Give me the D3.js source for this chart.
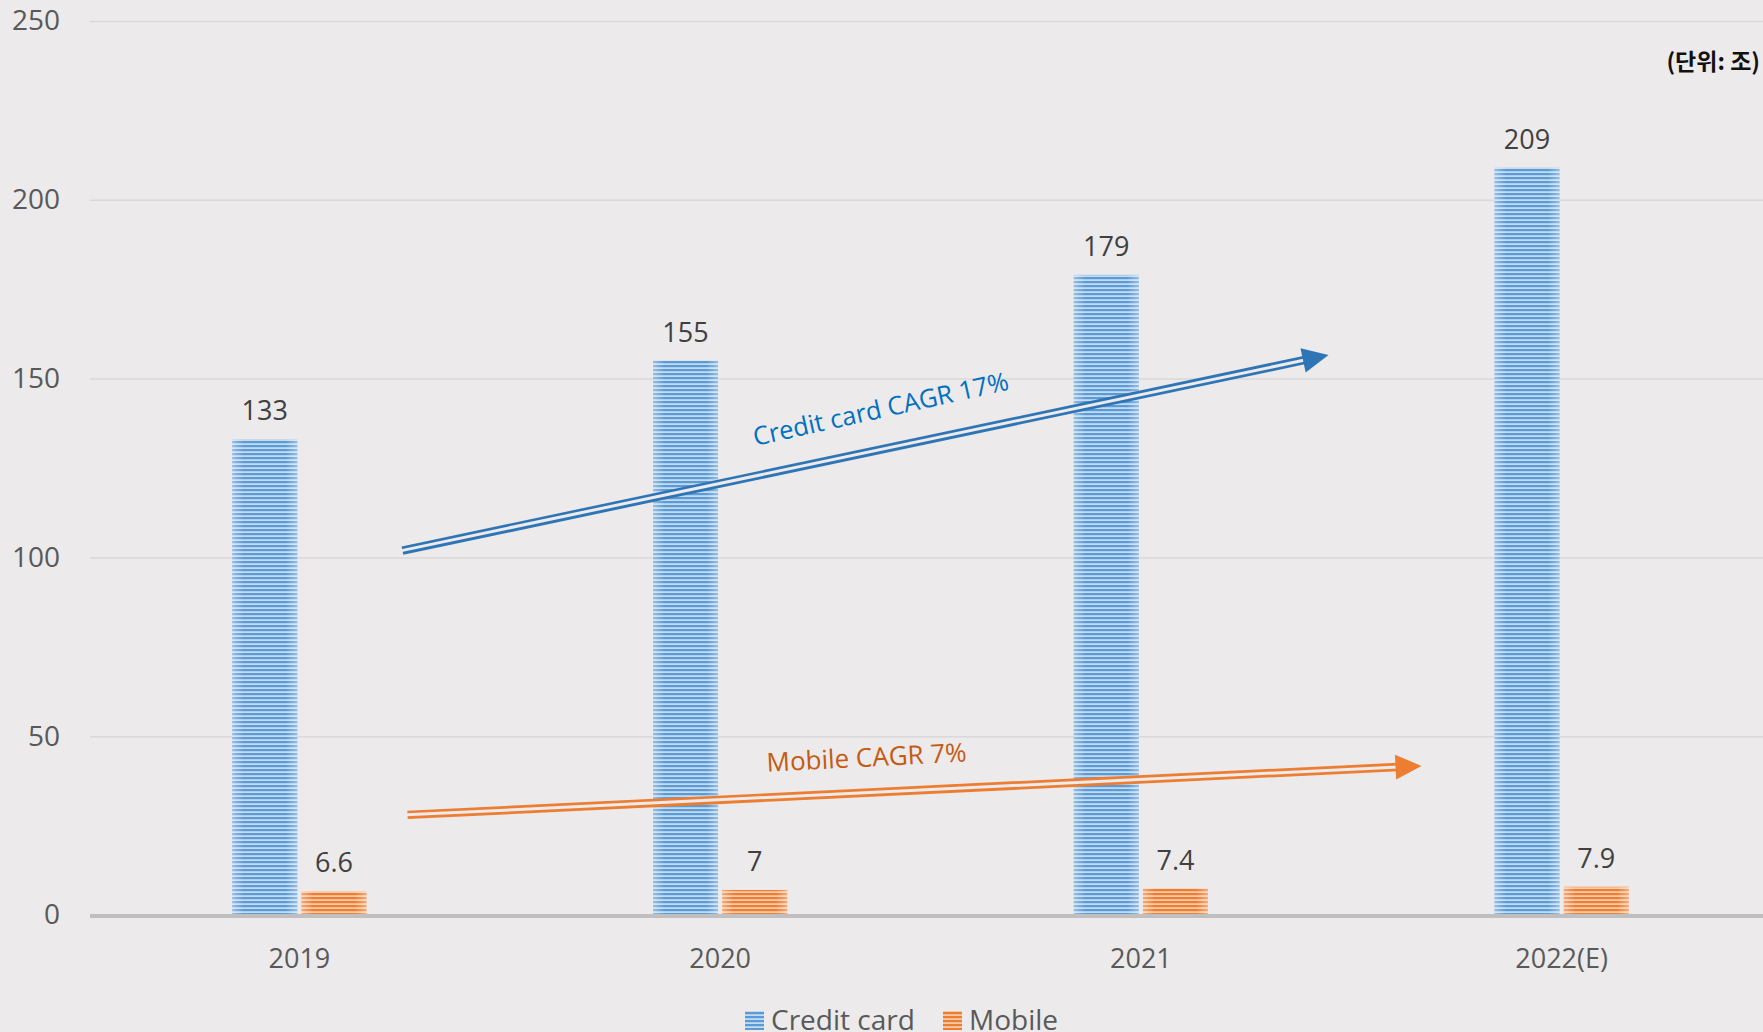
<!DOCTYPE html>
<html>
<head>
<meta charset="utf-8">
<script src="https://cdnjs.cloudflare.com/ajax/libs/d3/7.8.5/d3.min.js"></script>
<style>
  html, body { margin: 0; padding: 0; background: #eceaeb; }
  svg { display: block; }
</style>
</head>
<body>
<div id="chart"></div>
<script>
/*
*       Data
*/

// Years on the x axis
var categories = ['2019', '2020', '2021', '2022(E)'];

// Series names (legend order)
var seriesNames = ['Credit card', 'Mobile'];

// Values per series, in 조
var creditValues = [133, 155, 179, 209];
var mobileValues = [6.6, 7, 7.4, 7.9];

// Value labels as printed above the bars
var creditLabels = ['133', '155', '179', '209'];
var mobileLabels = ['6.6', '7', '7.4', '7.9'];

// Y axis ticks
var yTicks = [0, 50, 100, 150, 200, 250];

// CAGR arrows, in category-index / value units
var arrowNames = ['Credit card CAGR 17%', 'Mobile CAGR 7%'];
var arrowFrom = [[0.245, 101.9], [0.257, 28.0]];
var arrowTo = [[2.446, 156.6], [2.667, 41.7]];
var arrowTextAt = [[1.381, 141.8], [1.348, 44.3]];
var arrowTextAngle = [-12.5, -3];

/*
*       Setup
*/

var width = 1763, height = 1032;
var bg = '#eceaeb';
var colors = {
    'Credit card': { dark: '#5b9bd5', light: '#c3daf0', arrow: '#2e75b6', text: '#0070c0' },
    'Mobile': { dark: '#ed7d31', light: '#f8c9a8', arrow: '#ed7d31', text: '#c55a11' }
};

var svg = d3.select('#chart').append('svg')
    .attr('width', width)
    .attr('height', height)
    .style('font-family', '"Open Sans", "Noto Sans", sans-serif');

svg.append('rect').attr('width', width).attr('height', height).attr('fill', bg);

// Striped fill patterns and edge glow for the bars
var defs = svg.append('defs');
seriesNames.forEach(function(name, i){
    var c = colors[name];
    var p = defs.append('pattern')
        .attr('id', 'stripe' + i)
        .attr('patternUnits', 'userSpaceOnUse')
        .attr('width', 8).attr('height', 4);
    p.append('rect').attr('width', 8).attr('height', 4).attr('fill', c.light);
    p.append('rect').attr('y', 1).attr('width', 8).attr('height', 2.2).attr('fill', c.dark);
});
var glow = defs.append('linearGradient').attr('id', 'glow');
glow.append('stop').attr('offset', '0%').attr('stop-color', '#fff').attr('stop-opacity', 0.35);
glow.append('stop').attr('offset', '18%').attr('stop-color', '#fff').attr('stop-opacity', 0);
glow.append('stop').attr('offset', '82%').attr('stop-color', '#fff').attr('stop-opacity', 0);
glow.append('stop').attr('offset', '100%').attr('stop-color', '#fff').attr('stop-opacity', 0.35);

// Scales
var x0 = d3.scaleBand()
    .domain(categories)
    .range([89, 1772])
    .paddingInner(0.681)
    .paddingOuter(0.3405);

var x1 = d3.scaleBand()
    .domain(seriesNames)
    .range([0, x0.bandwidth()])
    .paddingInner(0.06);

var y = d3.scaleLinear().domain([0, 250]).range([915, 21]);

// Continuous x for annotations (category index -> pixel centre)
var xIdx = d3.scaleLinear()
    .domain([0, categories.length - 1])
    .range([x0(categories[0]) + x0.bandwidth() / 2, x0(categories[categories.length - 1]) + x0.bandwidth() / 2]);

/*
*       Grid and axes
*/

var yAxis = svg.append('g')
    .attr('transform', 'translate(90,0)')
    .call(d3.axisLeft(y).tickValues(yTicks).tickSize(-(width - 90)).tickPadding(30));
yAxis.select('.domain').remove();
yAxis.selectAll('.tick line')
    .attr('stroke', '#d9d9d9')
    .attr('stroke-width', 1.5)
    .attr('opacity', function(d){ return d === 0 ? 0 : 1; });
yAxis.selectAll('.tick text')
    .attr('fill', '#595959')
    .style('font-size', '28px')
    .style('font-family', '"Open Sans", sans-serif');

var xAxis = svg.append('g')
    .attr('transform', 'translate(0,' + y(0) + ')')
    .call(d3.axisBottom(x0).tickSize(0).tickPadding(34));
xAxis.select('.domain').remove();
xAxis.selectAll('.tick text')
    .attr('fill', '#595959')
    .style('font-size', '27px')
    .style('font-family', '"Open Sans", sans-serif');

/*
*       Bars
*/

var rows = categories.map(function(cat, i){
    return { cat: cat, values: [
        { name: 'Credit card', si: 0, value: creditValues[i], label: creditLabels[i] },
        { name: 'Mobile', si: 1, value: mobileValues[i], label: mobileLabels[i] }
    ]};
});

var groups = svg.append('g').selectAll('g')
    .data(rows)
    .enter().append('g')
    .attr('transform', function(d){ return 'translate(' + x0(d.cat) + ',0)'; });

var bars = groups.selectAll('g.bar')
    .data(function(d){ return d.values; })
    .enter().append('g').attr('class', 'bar');

bars.append('rect')
    .attr('x', function(d){ return x1(d.name); })
    .attr('y', function(d){ return y(d.value); })
    .attr('width', x1.bandwidth())
    .attr('height', function(d){ return y(0) - y(d.value); })
    .attr('fill', function(d){ return 'url(#stripe' + d.si + ')'; });

bars.append('rect')
    .attr('x', function(d){ return x1(d.name); })
    .attr('y', function(d){ return y(d.value); })
    .attr('width', x1.bandwidth())
    .attr('height', function(d){ return y(0) - y(d.value); })
    .attr('fill', 'url(#glow)');

bars.append('text')
    .attr('x', function(d){ return x1(d.name) + x1.bandwidth() / 2; })
    .attr('y', function(d){ return y(d.value) - 19; })
    .attr('text-anchor', 'middle')
    .attr('fill', '#404040')
    .style('font-size', '27px')
    .text(function(d){ return d.label; });

// Baseline
svg.append('line')
    .attr('x1', 90).attr('x2', width)
    .attr('y1', y(0) + 1).attr('y2', y(0) + 1)
    .attr('stroke', '#bfbfbf')
    .attr('stroke-width', 4);

/*
*       CAGR arrows
*/

arrowNames.forEach(function(label, i){
    var c = colors[seriesNames[i]];
    var sx = xIdx(arrowFrom[i][0]), sy = y(arrowFrom[i][1]);
    var tx = xIdx(arrowTo[i][0]), ty = y(arrowTo[i][1]);
    var ang = Math.atan2(ty - sy, tx - sx);
    var headLen = 26, headHalf = 12.5;
    var bx = tx - headLen * Math.cos(ang), by = ty - headLen * Math.sin(ang);

    var a = svg.append('g');
    // Double line: thick stroke with a background-coloured core
    a.append('line')
        .attr('x1', sx).attr('y1', sy).attr('x2', bx + 2 * Math.cos(ang)).attr('y2', by + 2 * Math.sin(ang))
        .attr('stroke', c.arrow).attr('stroke-width', 8.5);
    a.append('line')
        .attr('x1', sx - 1).attr('y1', sy).attr('x2', bx + 3 * Math.cos(ang)).attr('y2', by + 3 * Math.sin(ang))
        .attr('stroke', bg).attr('stroke-width', 3);
    var nx = -Math.sin(ang), ny = Math.cos(ang);
    a.append('path')
        .attr('d', 'M' + tx + ',' + ty +
            'L' + (bx + nx * headHalf) + ',' + (by + ny * headHalf) +
            'L' + (bx - nx * headHalf) + ',' + (by - ny * headHalf) + 'Z')
        .attr('fill', c.arrow);

    var lx = xIdx(arrowTextAt[i][0]), ly = y(arrowTextAt[i][1]);
    a.append('text')
        .attr('transform', 'translate(' + lx + ',' + ly + ') rotate(' + arrowTextAngle[i] + ')')
        .attr('text-anchor', 'middle')
        .attr('dominant-baseline', 'central')
        .attr('fill', c.text)
        .style('font-size', i === 0 ? '25.5px' : '26px')
        .text(label);
});

/*
*       Unit label and legend
*/

svg.append('text')
    .attr('x', 1760).attr('y', 70)
    .attr('text-anchor', 'end')
    .attr('fill', '#111')
    .style('font-family', '"Noto Sans CJK KR", sans-serif')
    .style('font-weight', 'bold')
    .style('font-size', '23px')
    .text('(단위: 조)');

var legendX = [745, 943];
var legend = svg.append('g').selectAll('g')
    .data(seriesNames)
    .enter().append('g')
    .attr('transform', function(d, i){ return 'translate(' + legendX[i] + ',1011)'; });
legend.append('rect')
    .attr('width', 19).attr('height', 19)
    .attr('fill', function(d, i){ return 'url(#stripe' + i + ')'; });
legend.append('text')
    .attr('x', 26).attr('y', 19)
    .attr('fill', '#595959')
    .style('font-size', '28px')
    .text(function(d){ return d; });
</script>
</body>
</html>
